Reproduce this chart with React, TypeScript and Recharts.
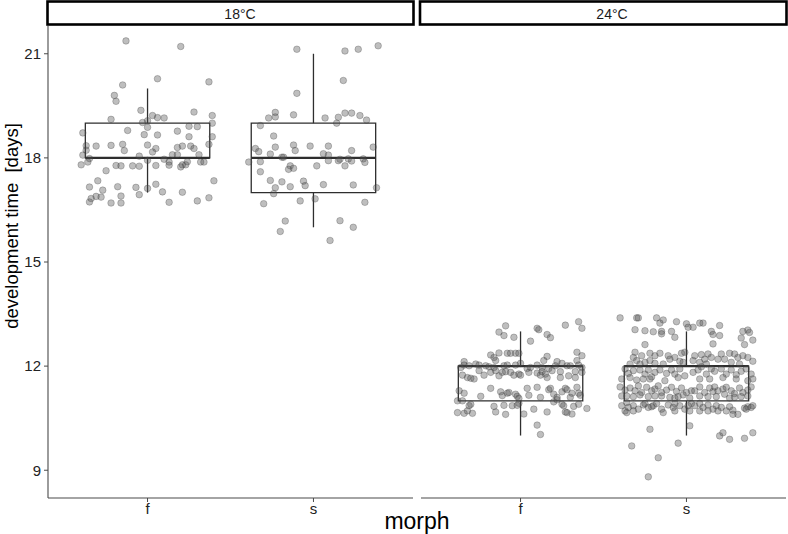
import React from 'react';
import { ScatterChart, Scatter, XAxis, YAxis, ReferenceArea, ReferenceLine } from 'recharts';

// ---------- categories & ticks ----------
const morphs = ['f', 's'];
const temperatures = ['18°C', '24°C'];
const yTicks = [9, 12, 15, 18, 21];

// ---------- box statistics (per morph: f, s) ----------
const whiskerLow18 = [17, 16];
const q1_18 = [18, 17];
const median18 = [18, 18];
const q3_18 = [19, 19];
const whiskerHigh18 = [20, 21];

const whiskerLow24 = [10, 10];
const q1_24 = [11, 11];
const median24 = [12, 12];
const q3_24 = [12, 12];
const whiskerHigh24 = [13, 13];

// ---------- jittered observations: [horizontal jitter, development time] ----------
const obs18f: [number, number][] = [
  [-0.13, 21.37], [0.2, 21.21], [-0.15, 20.1], [0.06, 20.28], [0.37, 20.19], [-0.2, 19.8], [-0.19, 19.63],
  [-0.04, 19.37], [0.28, 19.32], [0.39, 19.22], [0.03, 19.22], [0.06, 19.16], [0.1, 19.15], [-0.22, 19.11],
  [-0.03, 19.02], [0.0, 19.07], [0.39, 19.0], [0.0, 18.88], [0.25, 18.91], [0.3, 18.9], [-0.39, 18.72],
  [-0.12, 18.79], [0.18, 18.77], [-0.02, 18.67], [0.06, 18.66], [0.25, 18.61], [0.39, 18.61], [-0.37, 18.35],
  [-0.31, 18.34], [-0.22, 18.36], [-0.15, 18.39], [-0.14, 18.21], [0.0, 18.37], [0.05, 18.27], [0.03, 18.17],
  [0.18, 18.3], [0.21, 18.34], [0.26, 18.34], [0.28, 18.27], [0.37, 18.39], [-0.37, 18.22], [-0.39, 18.08],
  [-0.05, 18.05], [0.15, 18.09], [0.18, 18.09], [0.31, 18.09], [-0.35, 17.98], [-0.4, 17.8], [-0.36, 17.88],
  [-0.19, 17.78], [-0.16, 17.77], [-0.09, 17.77], [-0.05, 17.76], [0.0, 17.93], [0.05, 17.78], [0.1, 17.96],
  [0.13, 17.88], [0.13, 17.79], [0.2, 17.74], [0.21, 17.8], [0.23, 17.8], [0.24, 17.89], [0.32, 17.88],
  [0.34, 17.88], [-0.25, 17.63], [-0.3, 17.34], [-0.35, 17.16], [-0.27, 17.07], [-0.18, 17.17], [-0.07, 17.15],
  [0.0, 17.12], [0.05, 17.24], [0.4, 17.34], [-0.31, 16.89], [-0.28, 16.87], [-0.34, 16.83], [-0.35, 16.73],
  [-0.22, 16.7], [-0.16, 16.9], [-0.16, 16.7], [-0.05, 16.94], [0.09, 17.02], [0.13, 16.72], [0.21, 17.01],
  [0.3, 16.76], [0.37, 16.85],
];

const obs18s: [number, number][] = [
  [-0.1, 21.13], [0.19, 21.08], [0.27, 21.13], [0.39, 21.23], [0.18, 20.23], [-0.1, 19.86], [-0.23, 19.31],
  [-0.27, 19.15], [-0.23, 19.18], [-0.12, 19.24], [0.07, 19.15], [0.15, 19.17], [0.19, 19.29], [0.23, 19.29],
  [0.28, 19.22], [0.32, 19.09], [0.14, 19.0], [-0.32, 18.93], [-0.24, 18.63], [-0.35, 18.27], [-0.33, 18.18],
  [-0.23, 18.31], [-0.12, 18.37], [-0.11, 18.21], [-0.02, 18.34], [0.09, 18.34], [0.36, 18.31], [0.23, 18.21],
  [-0.26, 18.11], [-0.19, 18.02], [-0.18, 18.02], [0.06, 18.12], [0.09, 18.08], [0.16, 17.96], [0.15, 17.92],
  [0.09, 17.92], [0.21, 17.97], [0.23, 17.91], [0.3, 17.97], [0.31, 17.87], [-0.39, 17.88], [-0.32, 17.89],
  [-0.14, 17.77], [-0.15, 17.67], [-0.12, 17.7], [0.02, 17.77], [0.19, 17.77], [-0.32, 17.6], [-0.26, 17.35],
  [-0.19, 17.31], [-0.06, 17.33], [-0.05, 17.2], [-0.14, 17.17], [-0.23, 17.14], [0.06, 17.23], [0.24, 17.22],
  [0.38, 17.14], [-0.24, 16.97], [-0.3, 16.68], [-0.08, 16.76], [0.01, 16.82], [0.31, 16.72], [-0.17, 16.18],
  [0.16, 16.19], [-0.2, 15.88], [0.24, 16.0], [0.1, 15.62],
];

const obs24f: [number, number][] = [
  [-0.09, 13.16], [-0.13, 12.98], [-0.1, 12.88], [-0.04, 12.83], [0.1, 13.09], [0.11, 13.05], [0.16, 12.91],
  [0.18, 12.82], [0.06, 12.72], [0.27, 13.18], [0.35, 13.28], [0.37, 13.09], [-0.18, 12.32], [-0.16, 12.25],
  [-0.13, 12.38], [-0.08, 12.37], [-0.06, 12.37], [-0.03, 12.37], [-0.01, 12.37], [0.16, 12.28], [0.14, 12.16],
  [-0.15, 12.16], [0.22, 12.13], [0.34, 12.4], [0.37, 12.3], [0.34, 12.16], [-0.34, 12.13], [-0.34, 12.03],
  [-0.31, 12.01], [-0.27, 12.06], [-0.25, 12.03], [-0.36, 11.96], [-0.21, 12.01], [-0.19, 11.98], [-0.16, 11.96],
  [-0.1, 12.01], [-0.08, 12.03], [-0.03, 12.03], [0.0, 12.08], [0.04, 11.93], [0.06, 11.96], [0.1, 12.03],
  [0.13, 11.96], [0.17, 11.93], [0.21, 12.01], [0.25, 12.08], [0.28, 12.01], [0.3, 12.01], [0.35, 12.03],
  [0.37, 11.96], [-0.35, 11.74], [-0.32, 11.67], [-0.3, 11.65], [-0.28, 11.63], [-0.25, 11.87], [-0.22, 11.74],
  [-0.18, 11.82], [-0.15, 11.87], [-0.13, 11.72], [-0.11, 11.82], [-0.09, 11.84], [-0.06, 11.82], [-0.04, 11.74],
  [-0.01, 11.77], [0.0, 11.74], [0.05, 11.82], [0.1, 11.8], [0.12, 11.74], [0.13, 11.84], [0.15, 11.77],
  [0.16, 11.67], [0.19, 11.87], [0.24, 11.84], [0.24, 11.67], [0.29, 11.72], [0.33, 11.84], [0.33, 11.67],
  [0.37, 11.82], [-0.18, 11.36], [-0.12, 11.26], [-0.11, 11.15], [-0.08, 11.22], [-0.07, 11.24], [-0.03, 11.19],
  [-0.02, 11.13], [-0.01, 11.07], [0.04, 11.36], [0.05, 11.16], [0.1, 11.39], [0.12, 11.1], [0.17, 11.32],
  [0.18, 11.36], [0.2, 11.19], [0.22, 11.1], [0.25, 11.26], [0.27, 11.36], [0.28, 11.32], [0.3, 11.1],
  [0.31, 11.22], [0.34, 11.39], [0.35, 11.22], [0.36, 11.16], [-0.37, 11.29], [-0.34, 11.22], [-0.24, 11.13],
  [-0.38, 11.0], [-0.35, 11.0], [-0.31, 10.86], [-0.3, 10.9], [-0.16, 10.84], [-0.1, 10.87], [-0.05, 10.86],
  [-0.02, 10.87], [-0.01, 10.93], [0.08, 10.76], [0.16, 10.68], [0.2, 10.97], [0.22, 11.03], [0.25, 10.9],
  [0.26, 10.86], [0.28, 10.66], [0.27, 10.68], [0.32, 10.84], [0.35, 10.9], [0.4, 10.78], [-0.38, 10.66],
  [-0.34, 10.64], [-0.32, 10.71], [-0.29, 10.64], [-0.15, 10.68], [-0.09, 10.61], [0.02, 10.62], [0.31, 10.62],
  [0.1, 10.3], [0.12, 10.03],
];

const obs24s: [number, number][] = [
  [-0.4, 13.39], [-0.3, 13.39], [-0.29, 13.39], [-0.18, 13.39], [-0.14, 13.33], [-0.16, 13.24], [-0.06, 13.28],
  [0.0, 13.22], [0.01, 13.12], [0.04, 13.12], [0.08, 13.24], [0.1, 13.24], [0.2, 13.17], [-0.31, 13.05],
  [-0.25, 13.02], [-0.2, 12.99], [-0.15, 13.0], [-0.15, 12.93], [-0.09, 13.0], [-0.07, 12.83], [0.15, 13.0],
  [0.16, 12.91], [0.2, 12.88], [0.34, 13.0], [0.37, 13.04], [0.38, 12.97], [0.33, 12.81], [0.35, 12.62],
  [0.4, 12.75], [-0.25, 12.62], [0.16, 12.64],
  [-0.31, 12.4], [-0.27, 12.3], [-0.22, 12.37], [-0.19, 12.3], [-0.16, 12.37], [-0.11, 12.3], [-0.03, 12.37],
  [-0.01, 12.4], [-0.07, 12.25], [-0.32, 12.25], [-0.3, 12.16], [-0.34, 12.06], [-0.28, 12.06], [-0.25, 12.11],
  [-0.22, 12.16], [-0.19, 12.08], [-0.14, 12.06], [-0.1, 12.2], [-0.04, 12.14], [-0.02, 12.11], [0.04, 12.16],
  [0.08, 12.11], [0.11, 12.2], [0.13, 12.35], [0.15, 12.25], [0.19, 12.2], [0.21, 12.35], [0.23, 12.2],
  [0.26, 12.37], [0.29, 12.35], [0.31, 12.25], [0.34, 12.3], [0.37, 12.25], [0.4, 12.14], [0.09, 12.33],
  [0.12, 12.06], [0.27, 12.11], [0.32, 12.06], [0.05, 12.3],
  [-0.37, 11.92], [-0.35, 11.79], [-0.32, 11.87], [-0.28, 11.89], [-0.25, 11.77], [-0.23, 11.89], [-0.21, 11.69],
  [-0.19, 11.82], [-0.16, 11.89], [-0.12, 11.79], [-0.09, 11.89], [-0.07, 11.77], [-0.04, 11.92], [-0.01, 11.72],
  [0.04, 11.82], [0.07, 11.89], [0.09, 11.98], [0.12, 11.77], [0.15, 11.92], [0.17, 11.85], [0.21, 11.92],
  [0.24, 11.77], [0.27, 11.89], [0.3, 11.75], [0.33, 11.85], [0.36, 11.92], [0.39, 11.77], [0.4, 11.63],
  [-0.39, 11.63], [-0.34, 11.67], [-0.3, 11.6], [-0.26, 11.63], [-0.22, 11.63], [-0.13, 11.58], [-0.05, 11.67],
  [0.08, 11.63], [0.14, 11.63], [0.22, 11.67], [0.3, 11.63], [0.37, 11.58],
  [-0.4, 11.4], [-0.37, 11.31], [-0.34, 11.37], [-0.31, 11.29], [-0.29, 11.43], [-0.27, 11.24], [-0.24, 11.39],
  [-0.21, 11.29], [-0.19, 11.34], [-0.17, 11.43], [-0.15, 11.24], [-0.12, 11.31], [-0.09, 11.39], [-0.06, 11.27],
  [-0.03, 11.37], [0.0, 11.24], [0.03, 11.29], [0.05, 11.29], [0.08, 11.4], [0.11, 11.24], [0.14, 11.37],
  [0.16, 11.27], [0.17, 11.4], [0.19, 11.29], [0.22, 11.34], [0.24, 11.39], [0.27, 11.29], [0.29, 11.21],
  [0.32, 11.37], [0.34, 11.24], [0.37, 11.31], [0.39, 11.4], [-0.39, 11.14], [-0.36, 11.14], [-0.32, 11.12],
  [-0.28, 11.17], [-0.23, 11.12], [-0.19, 11.14], [-0.15, 11.14], [-0.1, 11.1], [-0.07, 11.08], [-0.05, 11.12],
  [-0.02, 11.17], [0.02, 11.08], [0.08, 11.14], [0.13, 11.12], [0.18, 11.12], [0.23, 11.19], [0.26, 11.08],
  [0.29, 11.1], [0.33, 11.12], [0.37, 11.14],
  [-0.39, 10.86], [-0.37, 10.71], [-0.35, 10.81], [-0.36, 10.95], [-0.32, 10.86], [-0.29, 10.76], [-0.26, 10.88],
  [-0.23, 10.81], [-0.2, 10.86], [-0.18, 10.92], [-0.15, 10.76], [-0.14, 10.66], [-0.11, 10.88], [-0.08, 10.81],
  [-0.07, 10.92], [-0.04, 10.86], [-0.01, 10.76], [0.03, 10.92], [0.05, 10.86], [0.08, 10.71], [0.1, 10.81],
  [0.13, 10.88], [0.16, 10.76], [0.18, 10.86], [0.21, 10.81], [0.24, 10.71], [0.26, 10.83], [0.28, 10.73],
  [0.31, 10.61], [0.35, 10.79], [0.37, 10.83], [0.4, 10.86], [-0.25, 10.92], [-0.32, 10.71], [-0.21, 10.83],
  [0.02, 10.71], [0.08, 10.92], [0.19, 10.71], [0.28, 10.61], [0.36, 10.76], [0.39, 10.81], [-0.07, 10.71],
  [0.01, 10.86], [-0.36, 10.66], [0.13, 10.71],
  [-0.22, 10.18], [0.02, 10.28], [-0.33, 9.7], [-0.05, 9.78], [0.2, 9.99], [0.22, 10.08], [0.26, 9.89],
  [0.35, 9.92], [0.4, 10.08], [-0.17, 9.36], [-0.23, 8.81],
];

// ---------- styling constants ----------
const FONT = '"Liberation Sans", Arial, Helvetica, sans-serif';
const AXIS_COLOR = '#4a4a4a';
const BOX_COLOR = '#2e2e2e';
const BOX_HALF = 0.375;
const Y_DOMAIN: [number, number] = [8.2, 21.8];

type Stats = { lo: number[]; q1: number[]; med: number[]; q3: number[]; hi: number[] };

const panels = [
  {
    label: temperatures[0],
    groups: [obs18f, obs18s],
    stats: { lo: whiskerLow18, q1: q1_18, med: median18, q3: q3_18, hi: whiskerHigh18 } as Stats,
  },
  {
    label: temperatures[1],
    groups: [obs24f, obs24s],
    stats: { lo: whiskerLow24, q1: q1_24, med: median24, q3: q3_24, hi: whiskerHigh24 } as Stats,
  },
];

const Dot = (props: any) => {
  const { cx, cy } = props;
  if (cx == null || cy == null) return null;
  return (
    <circle cx={cx} cy={cy} r={3.3} fill="#555555" fillOpacity={0.38} stroke="#333333" strokeOpacity={0.35} strokeWidth={0.8} />
  );
};

function Panel({ groups, stats, showY, width }: { groups: [number, number][][]; stats: Stats; showY: boolean; width: number }) {
  const data = groups.flatMap((g, i) => g.map(([j, v]) => ({ x: i + 1 + j, y: v })));
  return (
    <ScatterChart width={width} height={534} margin={{ top: 26, right: 1, bottom: 6, left: 0 }}>
      <XAxis
        type="number"
        dataKey="x"
        domain={[0.4, 2.6]}
        ticks={[1, 2]}
        tickFormatter={(v: number) => morphs[v - 1]}
        allowDataOverflow
        height={30}
        axisLine={{ stroke: AXIS_COLOR, strokeWidth: 1.1 }}
        tickLine={{ stroke: AXIS_COLOR }}
        tickSize={4}
        tickMargin={1}
        tick={{ fontSize: 15, fill: '#222', fontFamily: FONT }}
      />
      <YAxis
        type="number"
        dataKey="y"
        domain={Y_DOMAIN}
        ticks={yTicks}
        allowDataOverflow
        hide={!showY}
        width={showY ? 48 : 0}
        axisLine={{ stroke: AXIS_COLOR, strokeWidth: 1.1 }}
        tickLine={{ stroke: AXIS_COLOR }}
        tickSize={4}
        tickMargin={3}
        tick={{ fontSize: 15, fill: '#222', fontFamily: FONT }}
      />
      <Scatter data={data} isAnimationActive={false} shape={Dot} />
      {morphs.map((m, i) => (
        <ReferenceArea
          key={'box' + m}
          x1={i + 1 - BOX_HALF}
          x2={i + 1 + BOX_HALF}
          y1={stats.q1[i]}
          y2={stats.q3[i]}
          fill="none"
          fillOpacity={0}
          stroke={BOX_COLOR}
          strokeWidth={1.3}
          strokeOpacity={1}
        />
      ))}
      {morphs.map((m, i) => (
        <ReferenceLine
          key={'wl' + m}
          segment={[{ x: i + 1, y: stats.lo[i] }, { x: i + 1, y: stats.q1[i] }]}
          stroke={BOX_COLOR}
          strokeWidth={1.3}
        />
      ))}
      {morphs.map((m, i) => (
        <ReferenceLine
          key={'wh' + m}
          segment={[{ x: i + 1, y: stats.q3[i] }, { x: i + 1, y: stats.hi[i] }]}
          stroke={BOX_COLOR}
          strokeWidth={1.3}
        />
      ))}
      {morphs.map((m, i) => (
        <ReferenceLine
          key={'md' + m}
          segment={[{ x: i + 1 - BOX_HALF, y: stats.med[i] }, { x: i + 1 + BOX_HALF, y: stats.med[i] }]}
          stroke={BOX_COLOR}
          strokeWidth={2.2}
        />
      ))}
    </ScatterChart>
  );
}

export default function App() {
  return (
    <div style={{ position: 'absolute', left: 0, top: 0, width: 788, height: 534, background: '#fff', fontFamily: FONT }}>
      <div style={{ position: 'absolute', left: 0, top: 0 }}>
        <Panel groups={panels[0].groups} stats={panels[0].stats} showY={true} width={414} />
      </div>
      <div style={{ position: 'absolute', left: 421, top: 0 }}>
        <Panel groups={panels[1].groups} stats={panels[1].stats} showY={false} width={366} />
      </div>
      <svg width={788} height={534} style={{ position: 'absolute', left: 0, top: 0, pointerEvents: 'none' }}>
        <rect x={47.5} y={1.5} width={366} height={23} fill="#fff" stroke="#000" strokeWidth={2.6} />
        <rect x={420} y={1.5} width={366.5} height={23} fill="#fff" stroke="#000" strokeWidth={2.6} />
        <text x={240} y={18.5} textAnchor="middle" fontSize={14} fontFamily={FONT} fill="#1a1a1a">
          {panels[0].label}
        </text>
        <text x={612} y={18.5} textAnchor="middle" fontSize={14} fontFamily={FONT} fill="#1a1a1a">
          {panels[1].label}
        </text>
        <text transform="translate(17.5,226) rotate(-90)" textAnchor="middle" fontSize={18.5} fontFamily={FONT} fill="#000" style={{ whiteSpace: 'pre' }}>
          {'development time  [days]'}
        </text>
        <text x={417} y={529} textAnchor="middle" fontSize={23} fontFamily={FONT} fill="#000">
          morph
        </text>
      </svg>
    </div>
  );
}
